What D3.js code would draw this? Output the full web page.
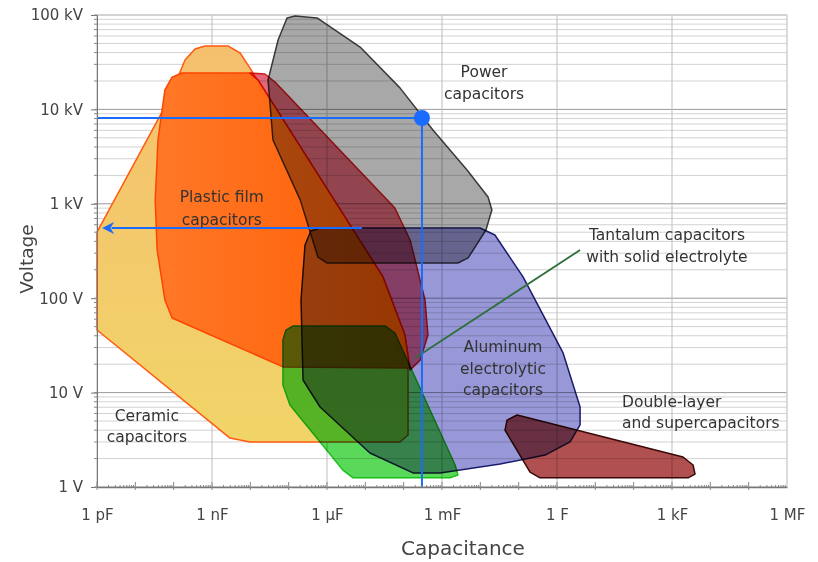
<!DOCTYPE html>
<html>
<head>
<meta charset="utf-8">
<title>Capacitor types by capacitance and voltage</title>
<script src="https://cdn.jsdelivr.net/npm/d3@7"></script>
<style>
body { margin: 0; background: #fff; }
svg { font-family: "DejaVu Sans", Verdana, sans-serif; background: #fff; }
.tick-label { font-size: 15px; fill: #444; }
.region-label { font-size: 15.5px; fill: #333; }
.axis-title { fill: #444; }
</style>
</head>
<body>
<div id="chart"></div>
<script>

// axis ticks
var xTicks = [1e-12, 1e-9, 1e-6, 1e-3, 1, 1e3, 1e6];
var xTickLabels = ["1 pF", "1 nF", "1 µF", "1 mF", "1 F", "1 kF", "1 MF"];
var yTicks = [1, 10, 100, 1e3, 1e4, 1e5];
var yTickLabels = ["1 V", "10 V", "100 V", "1 kV", "10 kV", "100 kV"];

// region outlines, [capacitance in F, voltage in V]
var ceramic = [[1e-12,500],[6.7e-11,11700],[1.98e-10,33300],[3.6e-10,43600],[6.6e-10,47000],
  [2.6e-9,47000],[5.4e-9,39600],[9.8e-9,27400],[1.2e-6,1100],[8.0e-5,46],[1.3e-4,17.4],
  [1.3e-4,3.56],[8.0e-5,3.0],[9.8e-9,3.0],[2.95e-9,3.3],[1e-12,46]];

var filmOrange = [[5.9e-11,16100],[9.1e-11,22000],[1.65e-10,24300],[9.8e-9,24300],[1.58e-8,20500],
  [2.9e-5,168],[1.08e-4,40.7],[1.47e-4,18.2],[7.1e-8,18.7],[9.1e-11,61.7],[5.9e-11,95.7],
  [3.7e-11,324],[3.3e-11,1100],[3.9e-11,4740]];

var filmRed = [[9.8e-9,24300],[2.4e-8,23700],[4.4e-8,19500],[5.9e-5,903],[1.47e-4,414],
  [3.6e-4,95.7],[4.3e-4,40.7],[2.7e-4,22.1],[1.47e-4,17.4],[1.08e-4,40.7],[2.9e-5,168],[1.58e-8,20500]];

var power = [[9.06e-8,93000],[1.47e-7,97600],[5.5e-7,93000],[7.3e-6,45800],[8.0e-5,16900],
  [5.8e-4,6050],[4.5e-3,2280],[1.59e-2,1180],[2.0e-2,860],[1.4e-2,528],[4.8e-3,267],
  [2.6e-3,236],[1.0e-6,236],[5.8e-7,273],[2.0e-7,1100],[3.9e-8,4740],[2.9e-8,20500],[5.3e-8,54300]];

var tantalum = [[1.3e-7,50.8],[3.3e-5,50.8],[5.9e-5,42.8],[2.2e-3,1.71],[2.6e-3,1.34],[1.6e-3,1.25],
  [4.8e-6,1.25],[2.6e-6,1.51],[1.08e-7,7.4],[7.1e-8,12.0],[7.1e-8,36.1],[8.5e-8,46]];

var aluminum = [[6.6e-7,554],[9.8e-3,554],[2.4e-2,467],[0.13,168],[1.44,26.3],[4.0,7.04],[4.0,4.54],
  [2.19,3.0],[0.49,2.18],[3.3e-2,1.75],[8.9e-4,1.41],[1.75e-4,1.41],[1.32e-5,2.29],[6.6e-7,7.04],
  [2.37e-7,13.6],[2.1e-7,95.7],[2.67e-7,366],[3.8e-7,515]];

var doubleLayer = [[4.97e-2,5.1],[9.1e-2,5.79],[1940,2.08],[3540,1.71],[3990,1.37],[2620,1.25],
  [0.36,1.25],[0.198,1.44],[4.4e-2,4.0]];

// pointer from label to tantalum region
var tantalumPointer = [[1.98e-4,23.3],[4.0,324]];

// blue example marks
var examplePoint = [3.0e-4, 8110];
var arrowFrom = [8.2e-6, 554];
var arrowTo = [1.9e-12, 554];

// region labels: anchor [C, V] of first line
var labels = [
  {lines: ["Power", "capacitors"], at: [1.25e-2, 22000], anchor: "middle", lh: 22},
  {lines: ["Plastic film", "capacitors"], at: [1.8e-9, 1045], anchor: "middle", lh: 23},
  {lines: ["Ceramic", "capacitors"], at: [2.0e-11, 5.0], anchor: "middle", lh: 21},
  {lines: ["Aluminum", "electrolytic", "capacitors"], at: [3.9e-2, 26.9], anchor: "middle", lh: 21.5},
  {lines: ["Double-layer", "and supercapacitors"], at: [49.7, 7.0], anchor: "start", lh: 21},
  {lines: ["Tantalum capacitors", "with solid electrolyte"], at: [740, 414], anchor: "middle", lh: 22}
];

var width = 818, height = 562;
var plotLeft = 97, plotRight = 787, plotTop = 15, plotBottom = 487;

var svg = d3.select("#chart").append("svg")
  .attr("width", width)
  .attr("height", height);

var x = d3.scaleLog().domain([1e-12, 1e6]).range([plotLeft, plotRight]);
var y = d3.scaleLog().domain([1, 1e5]).range([plotBottom, plotTop]);

/* gradients */
var defs = svg.append("defs");
var g1 = defs.append("linearGradient").attr("id", "gCer").attr("x1", 0).attr("y1", 0).attr("x2", 0).attr("y2", 1);
g1.append("stop").attr("offset", "0%").attr("stop-color", "#f5c06e");
g1.append("stop").attr("offset", "100%").attr("stop-color", "#f1d468");
var g2 = defs.append("linearGradient").attr("id", "gOr").attr("x1", 0).attr("y1", 0).attr("x2", 1).attr("y2", 0);
g2.append("stop").attr("offset", "0%").attr("stop-color", "#ff7828");
g2.append("stop").attr("offset", "100%").attr("stop-color", "#ff5c00");

/* grid */
var minorV = [];
for (var d = 0; d < 5; d++) {
  for (var k = 1; k < 10; k++) minorV.push(k * Math.pow(10, d));
}
minorV.push(1e5);

svg.append("g").selectAll("line")
  .data(minorV).enter().append("line")
  .attr("x1", plotLeft).attr("x2", plotRight)
  .attr("y1", d => y(d)).attr("y2", d => y(d))
  .attr("stroke", d => yTicks.indexOf(d) >= 0 ? "#9a9a9a" : "#d2d2d2")
  .attr("stroke-width", 1);

svg.append("g").selectAll("line")
  .data(xTicks).enter().append("line")
  .attr("x1", d => x(d)).attr("x2", d => x(d))
  .attr("y1", plotTop).attr("y2", plotBottom)
  .attr("stroke", "#bdbdbd")
  .attr("stroke-width", 1);

svg.append("rect")
  .attr("x", plotLeft).attr("y", plotTop)
  .attr("width", plotRight - plotLeft).attr("height", plotBottom - plotTop)
  .attr("fill", "none").attr("stroke", "#d8d8d8");

/* regions */
var line = d3.line()
  .x(d => x(d[0]))
  .y(d => y(d[1]))
  .curve(d3.curveLinearClosed);

// overlapping regions darken each other like layered transparencies
var regions = [
  {pts: ceramic, fill: "url(#gCer)", stroke: "#ff5a10", blend: "normal"},
  {pts: filmOrange, fill: "url(#gOr)", stroke: "#ff4400", blend: "normal"},
  {pts: power, fill: "#a8a8a8", stroke: "#3a3a3a", blend: "multiply"},
  {pts: filmRed, fill: "#e06878", stroke: "#d41818", blend: "multiply"},
  {pts: tantalum, fill: "#5ad85a", stroke: "#18c018", blend: "multiply"},
  {pts: aluminum, fill: "#9898d8", stroke: "#1c1c6c", blend: "multiply"},
  {pts: doubleLayer, fill: "#b05050", stroke: "#3a0808", blend: "multiply"}
];

svg.append("g").selectAll("path")
  .data(regions).enter().append("path")
  .attr("d", d => line(d.pts))
  .attr("fill", d => d.fill)
  .attr("stroke", d => d.stroke)
  .attr("stroke-width", 1.5)
  .attr("stroke-linejoin", "round")
  .style("mix-blend-mode", d => d.blend);

/* tantalum pointer */
svg.append("line")
  .attr("x1", x(tantalumPointer[0][0])).attr("y1", y(tantalumPointer[0][1]))
  .attr("x2", x(tantalumPointer[1][0])).attr("y2", y(tantalumPointer[1][1]))
  .attr("stroke", "#2f6f3a").attr("stroke-width", 1.8);

/* blue example */
var blue = "#1a6cff";
svg.append("line")
  .attr("x1", x(1e-12)).attr("x2", x(examplePoint[0]))
  .attr("y1", y(examplePoint[1])).attr("y2", y(examplePoint[1]))
  .attr("stroke", blue).attr("stroke-width", 2);
svg.append("line")
  .attr("x1", x(examplePoint[0])).attr("x2", x(examplePoint[0]))
  .attr("y1", y(examplePoint[1])).attr("y2", y(1))
  .attr("stroke", blue).attr("stroke-width", 2);
svg.append("circle")
  .attr("cx", x(examplePoint[0])).attr("cy", y(examplePoint[1]))
  .attr("r", 8).attr("fill", blue);

defs.append("marker")
  .attr("id", "arrow")
  .attr("viewBox", "0 0 10 10")
  .attr("refX", 2).attr("refY", 5)
  .attr("markerWidth", 6).attr("markerHeight", 6)
  .attr("markerUnits", "strokeWidth")
  .attr("orient", "auto")
  .append("path")
  .attr("d", "M0,0 L10,5 L0,10 L3,5 z")
  .attr("fill", blue);

svg.append("line")
  .attr("x1", x(arrowFrom[0])).attr("y1", y(arrowFrom[1]))
  .attr("x2", x(arrowTo[0]) + 4).attr("y2", y(arrowTo[1]))
  .attr("stroke", blue).attr("stroke-width", 2)
  .attr("marker-end", "url(#arrow)");

/* region labels */
labels.forEach(function(l) {
  var t = svg.append("text")
    .attr("class", "region-label")
    .attr("text-anchor", l.anchor)
    .attr("x", x(l.at[0]))
    .attr("y", y(l.at[1]));
  l.lines.forEach(function(s, i) {
    t.append("tspan")
      .attr("x", x(l.at[0]))
      .attr("dy", i == 0 ? 0 : l.lh)
      .text(s);
  });
});

/* axes */
var yAxis = d3.axisLeft(y)
  .tickValues(yTicks)
  .tickFormat((d, i) => yTickLabels[i])
  .tickSize(6)
  .tickPadding(8);

var gy = svg.append("g")
  .attr("transform", `translate(${plotLeft},0)`)
  .call(yAxis);
gy.attr("font-family", null).attr("font-size", null);
gy.select(".domain").attr("stroke", "#777");
gy.selectAll(".tick line").attr("stroke", "#777");
gy.selectAll(".tick text").attr("class", "tick-label");

// minor y ticks
svg.append("g").selectAll("line")
  .data(minorV).enter().append("line")
  .attr("x1", plotLeft - 3).attr("x2", plotLeft)
  .attr("y1", d => y(d)).attr("y2", d => y(d))
  .attr("stroke", "#888");

var xAxis = d3.axisBottom(x)
  .tickValues(xTicks)
  .tickFormat((d, i) => xTickLabels[i])
  .tickSize(0)
  .tickPadding(22);

var gx = svg.append("g")
  .attr("transform", `translate(0,${plotBottom})`)
  .call(xAxis);
gx.attr("font-family", null).attr("font-size", null);
gx.select(".domain").attr("stroke", "#777").attr("stroke-width", 1.5);
gx.selectAll(".tick text").attr("class", "tick-label");

// decade and minor x ticks
var xMinor = [];
for (var e = -12; e < 6; e++) {
  for (var m = 1; m < 10; m++) xMinor.push(m * Math.pow(10, e));
}
svg.append("g").selectAll("line")
  .data(xMinor).enter().append("line")
  .attr("x1", d => x(d)).attr("x2", d => x(d))
  .attr("y1", (d, i) => i % 9 == 0 ? plotBottom - 5 : plotBottom - 2)
  .attr("y2", (d, i) => i % 9 == 0 ? plotBottom + 3 : plotBottom)
  .attr("stroke", "#888");

svg.append("text")
  .attr("class", "axis-title")
  .attr("font-size", "18.5px")
  .attr("text-anchor", "middle")
  .attr("transform", "translate(33,259) rotate(-90)")
  .text("Voltage");

svg.append("text")
  .attr("class", "axis-title")
  .attr("font-size", "20px")
  .attr("text-anchor", "middle")
  .attr("x", 463)
  .attr("y", 555)
  .text("Capacitance");

</script>
</body>
</html>
